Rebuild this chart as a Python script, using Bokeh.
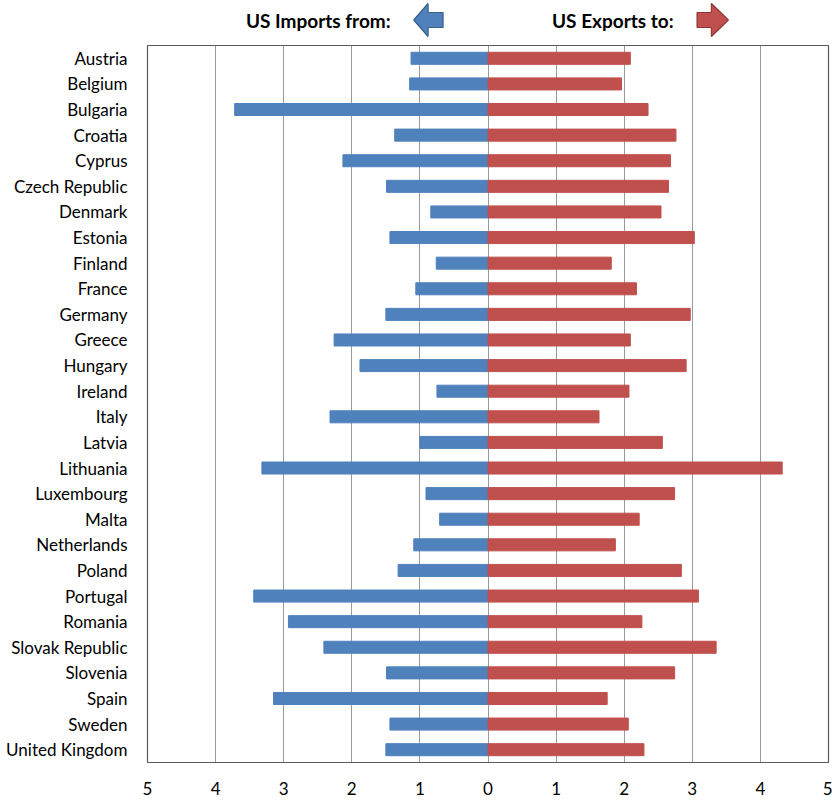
from bokeh.plotting import figure
from bokeh.layouts import column
from bokeh.models import ColumnDataSource, Range1d, FixedTicker
from bokeh.core.properties import value
from bokeh.embed import file_html
from bokeh.resources import INLINE

countries = ["Austria", "Belgium", "Bulgaria", "Croatia", "Cyprus", "Czech Republic",
             "Denmark", "Estonia", "Finland", "France", "Germany", "Greece", "Hungary",
             "Ireland", "Italy", "Latvia", "Lithuania", "Luxembourg", "Malta",
             "Netherlands", "Poland", "Portugal", "Romania", "Slovak Republic",
             "Slovenia", "Spain", "Sweden", "United Kingdom"]
imports_from = [1.13, 1.15, 3.72, 1.37, 2.13, 1.49, 0.84, 1.44, 0.76, 1.06, 1.50, 2.26,
                1.88, 0.75, 2.32, 1.00, 3.32, 0.91, 0.71, 1.09, 1.32, 3.44, 2.93, 2.41,
                1.49, 3.15, 1.44, 1.50]
exports_to = [2.09, 1.96, 2.35, 2.76, 2.68, 2.65, 2.54, 3.03, 1.81, 2.18, 2.97, 2.09,
              2.91, 2.07, 1.63, 2.56, 4.32, 2.74, 2.22, 1.87, 2.84, 3.09, 2.26, 3.35,
              2.74, 1.75, 2.06, 2.29]
tick_values = [-5, -4, -3, -2, -1, 0, 1, 2, 3, 4, 5]

BLUE = "#4F81BD"
RED = "#C0504D"
FONT = "Lato"

src = ColumnDataSource(dict(
    country=countries,
    imp=[-v for v in imports_from],
    exp=exports_to,
))

x_range = Range1d(-5, 5)

p = figure(width=832, height=755, y_range=list(reversed(countries)), x_range=x_range,
           output_backend="svg", toolbar_location=None,
           min_border_left=147, min_border_right=4, min_border_top=0, min_border_bottom=38)

p.hbar(y="country", left="imp", right=0, height=0.47, color=BLUE, source=src)
p.hbar(y="country", left=0, right="exp", height=0.47, color=RED, source=src)

p.xaxis.ticker = FixedTicker(ticks=tick_values)
p.xaxis.major_label_overrides = {t: str(abs(t)) for t in tick_values}
p.xaxis.major_tick_line_color = None
p.xaxis.minor_tick_line_color = None
p.xaxis.major_label_standoff = 13
p.xaxis.axis_line_color = "#595959"
p.xaxis.major_label_text_font = FONT
p.xaxis.major_label_text_font_size = "17px"
p.xaxis.major_label_text_color = "#000000"

p.yaxis.major_tick_line_color = None
p.yaxis.minor_tick_line_color = None
p.yaxis.axis_line_color = None
p.yaxis.major_label_standoff = 14
p.yaxis.major_label_text_font = FONT
p.yaxis.major_label_text_font_size = "17px"
p.yaxis.major_label_text_color = "#000000"

p.xgrid.grid_line_color = "#9A9A9A"
p.xgrid.ticker = FixedTicker(ticks=tick_values)
p.ygrid.grid_line_color = None
p.outline_line_color = "#595959"
p.outline_line_width = 1.2

# Header strip with the direction captions and arrows
h = figure(width=832, height=45, x_range=x_range, y_range=Range1d(0, 45),
           output_backend="svg", toolbar_location=None,
           min_border_left=147, min_border_right=4, min_border_top=0, min_border_bottom=0)
h.axis.visible = False
h.grid.visible = False
h.outline_line_color = None

h.text(x=[-1.43], y=[25], text=["US Imports from:"], text_align="right",
       text_baseline="middle", text_font=value(FONT), text_font_style="bold",
       text_font_size="19px", text_color="#000000")
h.text(x=[0.94], y=[25], text=["US Exports to:"], text_align="left",
       text_baseline="middle", text_font=value(FONT), text_font_style="bold",
       text_font_size="19px", text_color="#000000")

# left-pointing block arrow
h.patch(x=[-1.09, -0.88, -0.88, -0.66, -0.66, -0.88, -0.88],
        y=[25.5, 42, 33, 33, 18, 18, 9],
        fill_color=BLUE, line_color="#385D8A", line_width=1.2)
# right-pointing block arrow
h.patch(x=[3.53, 3.28, 3.28, 3.07, 3.07, 3.28, 3.28],
        y=[25.5, 42, 33, 33, 18, 18, 9],
        fill_color=RED, line_color="#8C3836", line_width=1.2)

layout = column(h, p, spacing=0)

open("out.html", "w").write(file_html(layout, INLINE))
